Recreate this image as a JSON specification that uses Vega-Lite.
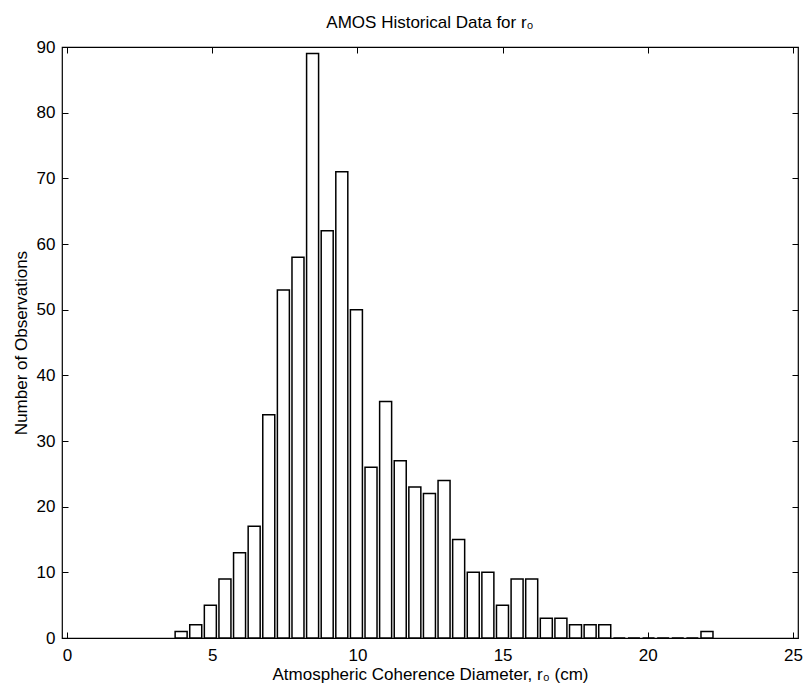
{
  "$schema": "https://vega.github.io/schema/vega-lite/v6.json",
  "width": 736,
  "height": 591,
  "autosize": {"type": "none"},
  "padding": {"left": 62, "top": 47, "right": 13, "bottom": 52},
  "background": "white",
  "title": {"text": "AMOS Historical Data for r₀", "fontSize": 17, "fontWeight": "normal", "font": "Liberation Sans", "color": "black", "offset": 6},
  "config": {
    "view": {"stroke": "black", "strokeWidth": 1.2},
    "axis": {"labelFont": "Liberation Sans", "titleFont": "Liberation Sans", "labelFontSize": 17, "titleFontSize": 17, "titleFontWeight": "normal", "labelColor": "black", "titleColor": "black", "domainColor": "black", "tickColor": "black", "grid": false}
  },
  "data": {"values": [
    {"r0": 3.93, "count": 1}, {"r0": 4.433, "count": 2}, {"r0": 4.936, "count": 5}, {"r0": 5.439, "count": 9},
    {"r0": 5.942, "count": 13}, {"r0": 6.445, "count": 17}, {"r0": 6.948, "count": 34}, {"r0": 7.451, "count": 53},
    {"r0": 7.954, "count": 58}, {"r0": 8.457, "count": 89}, {"r0": 8.96, "count": 62}, {"r0": 9.463, "count": 71},
    {"r0": 9.966, "count": 50}, {"r0": 10.469, "count": 26}, {"r0": 10.972, "count": 36}, {"r0": 11.475, "count": 27},
    {"r0": 11.978, "count": 23}, {"r0": 12.481, "count": 22}, {"r0": 12.984, "count": 24}, {"r0": 13.487, "count": 15},
    {"r0": 13.99, "count": 10}, {"r0": 14.493, "count": 10}, {"r0": 14.996, "count": 5}, {"r0": 15.499, "count": 9},
    {"r0": 16.002, "count": 9}, {"r0": 16.505, "count": 3}, {"r0": 17.008, "count": 3}, {"r0": 17.511, "count": 2},
    {"r0": 18.014, "count": 2}, {"r0": 18.517, "count": 2}, {"r0": 19.02, "count": 0}, {"r0": 19.523, "count": 0},
    {"r0": 20.026, "count": 0}, {"r0": 20.529, "count": 0}, {"r0": 21.032, "count": 0}, {"r0": 21.535, "count": 0},
    {"r0": 22.038, "count": 1}
  ]},
  "layer": [
    {
      "mark": {"type": "bar", "size": 12, "fill": "white", "stroke": "black", "strokeWidth": 1.5},
      "encoding": {
        "x": {"field": "r0", "type": "quantitative", "scale": {"domain": [0, 25], "nice": false, "zero": false},
              "axis": {"title": "Atmospheric Coherence Diameter, r₀ (cm)", "values": [0, 5, 10, 15, 20, 25], "tickSize": -6, "labelPadding": 15, "titlePadding": 3, "domain": false, "labelFlush": false}},
        "y": {"field": "count", "type": "quantitative", "scale": {"domain": [0, 90], "nice": false},
              "axis": {"title": "Number of Observations", "values": [0, 10, 20, 30, 40, 50, 60, 70, 80, 90], "tickSize": -6, "labelPadding": 13, "titlePadding": 6, "domain": false, "labelFlush": false}}
      }
    },
    {
      "mark": {"type": "bar", "size": 12, "opacity": 0},
      "encoding": {
        "x": {"field": "r0", "type": "quantitative", "scale": {"domain": [0, 25], "nice": false, "zero": false},
              "axis": {"orient": "top", "title": null, "labels": false, "values": [0, 5, 10, 15, 20, 25], "tickSize": -6, "domain": false}},
        "y": {"field": "count", "type": "quantitative", "scale": {"domain": [0, 90], "nice": false},
              "axis": {"orient": "right", "title": null, "labels": false, "values": [0, 10, 20, 30, 40, 50, 60, 70, 80, 90], "tickSize": -6, "domain": false}}
      }
    }
  ],
  "resolve": {"scale": {"x": "independent", "y": "independent"}, "axis": {"x": "independent", "y": "independent"}}
}
